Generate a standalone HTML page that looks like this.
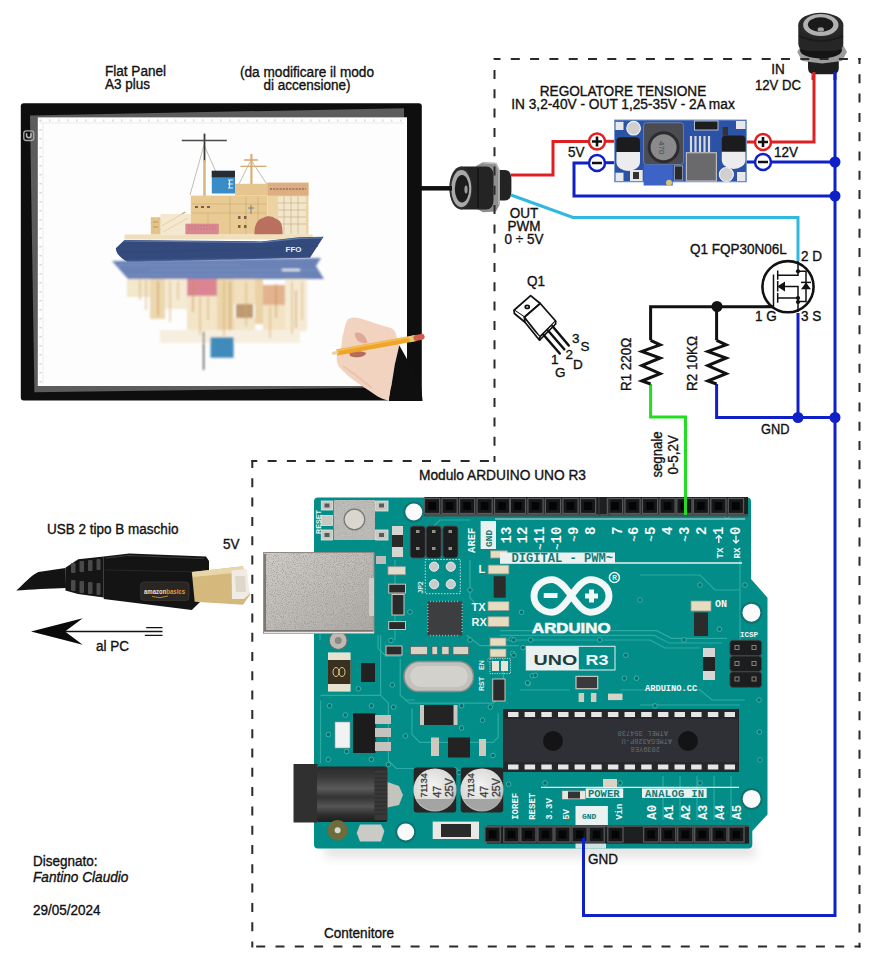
<!DOCTYPE html>
<html><head><meta charset="utf-8">
<style>
html,body{margin:0;padding:0;background:#fff;}
#c{position:relative;width:880px;height:975px;overflow:hidden;background:#fff;}
svg{position:absolute;left:0;top:0;}
svg{font-family:"Liberation Sans",sans-serif;}
</style></head><body>
<div id="c">
<svg width="880" height="975" viewBox="0 0 880 975">
<!-- ============ FLAT PANEL ============ -->
<g id="panel">
  <rect x="20.8" y="103.2" width="401" height="297.2" rx="3" fill="#0e0e0e"/>
  <path d="M30,115.5 L404,108.2 L404,117.4 L38,117.4 L38,386 L407,386 L407,387.2 L34.4,392.3 Z" fill="#5c5c5c"/>
  <rect x="37.8" y="117.3" width="369.2" height="268.7" fill="#fdfdfd"/>
  <path d="M40,120.5 H404 M40.5,120 V384" stroke="#d8d8d8" stroke-width="2.2" stroke-dasharray="1.5 7.5"/>
  <path d="M40,123 H404 M43,122 V384" stroke="#e6e6e6" stroke-width="0.8"/>
  <rect x="23.8" y="130.9" width="10" height="9.6" rx="2.5" fill="none" stroke="#a8a8a8" stroke-width="1.3"/>
  <path d="M26.6,133.2 V135.6 A2.2,2.2 0 0 0 31,135.6 V133.2" fill="none" stroke="#b8b8b8" stroke-width="1.5"/>
  <!-- ship: rigging -->
  <g stroke="#9a9080" stroke-width="0.6" fill="none">
    <path d="M204,145 L190,195 M204,145 L216,172 M251,160 L238,186 M251,160 L268,186"/>
  </g>
  <path d="M204.5,133.6 V162" stroke="#3a3a3a" stroke-width="1.8"/>
  <path d="M181.8,140.5 H226.8" stroke="#4a4a4a" stroke-width="1.4"/>
  <path d="M204.5,160 V202" stroke="#d8b880" stroke-width="2.6"/>
  <path d="M251.4,154 V186" stroke="#d8b070" stroke-width="2.2"/>
  <path d="M240.4,166.4 H266.4 M244,160 H258" stroke="#d0a870" stroke-width="1.4"/>
  <!-- superstructure -->
  <path d="M161.6,226 L185.4,212 M163,232 L188,218" stroke="#c9a36a" stroke-width="1.3"/>
  <rect x="160.5" y="214" width="30.3" height="20.5" fill="#f1e3c4" opacity="0.8"/>
  <rect x="150.8" y="217.2" width="9.7" height="17.3" fill="#e4c388"/>
  <path d="M153,222 H158 M153,227 H158" stroke="#a88858" stroke-width="0.8"/>
  <rect x="190.8" y="195.6" width="76.6" height="38.9" fill="#e9ca92"/>
  <rect x="235" y="183.8" width="32.4" height="11.8" fill="#e6c58e"/>
  <rect x="267.4" y="182.7" width="41.1" height="51.8" fill="#ecd3a4"/>
  <rect x="267.4" y="182.7" width="41.1" height="12.9" fill="#dcae82"/>
  <path d="M270,189 H306" stroke="#6a5040" stroke-width="1" stroke-dasharray="2 1.2"/>
  <rect x="278" y="196.5" width="28" height="38" fill="#f1e5cc"/>
  <g stroke="#c8a878" stroke-width="0.6" fill="none">
    <path d="M278,203 H306 M278,210 H306 M278,217 H306 M278,224 H306 M284,196.5 V234 M291,196.5 V234 M298,196.5 V234"/>
    <path d="M192,204 H266 M192,213 H266 M230,196 V234 M246,196 V234 M258,196 V234 M208,213 V234"/>
  </g>
  <g fill="#7a6048"><rect x="195" y="206" width="3" height="2"/><rect x="201" y="206" width="3" height="2"/><rect x="207" y="206" width="3" height="2"/><rect x="238" y="216" width="2.5" height="3"/><rect x="244" y="216" width="2.5" height="3"/><rect x="238" y="225" width="2.5" height="3"/><rect x="244" y="225" width="2.5" height="3"/></g>
  <path d="M251,205 V214 M248,208 H254" stroke="#6a7890" stroke-width="0.9"/>
  <rect x="185.4" y="223.7" width="33.4" height="10.8" fill="#d98890"/>
  <path d="M188,226 H216 M188,229 H216" stroke="#c07078" stroke-width="0.6" stroke-dasharray="2 1"/>
  <path d="M254.5,234.5 C254,226 257,219 263,218 C267,215 273,216 276,219 C281,220 283,226 282.5,234.5 Z" fill="#b9705e"/>
  <path d="M124.5,234.5 H312.8 V239.5 H124.5 Z" fill="#f0dfbb"/>
  <rect x="211.8" y="170.8" width="23.2" height="22.7" fill="#3a8cc8"/>
  <rect x="211.8" y="170.8" width="23.2" height="6.5" fill="#2a2c34"/>
  <path d="M228,180 H233 M228,184 H233 M228,188 H233 M229.5,180 V188" stroke="#e8f0f8" stroke-width="1.2"/>
  <!-- hull -->
  <path d="M115.8,248.2 L124.5,240 L261,241.4 L299,237.3 L323.6,236.7 L310,257.7 C250,259 170,261 127.3,261.8 C120,258 116,253 115.8,248.2 Z" fill="#34497c"/>
  <path d="M124.5,241 L261,242.4 L299,238.3 L322,237.8" stroke="#5e78a8" stroke-width="1.2" fill="none"/>
  <path d="M120,252 C160,252 240,250 318,246" stroke="#2e4878" stroke-width="1" fill="none"/>
  <text x="285.5" y="252.3" font-size="8" font-weight="bold" fill="#e8eef8">FFO</text>
  <defs><filter id="blur1" x="-10%" y="-10%" width="120%" height="120%"><feGaussianBlur stdDeviation="1.3"/></filter></defs>
  <!-- water / reflection -->
  <g filter="url(#blur1)">
  <path d="M112,261 C170,260 260,258.5 321,258 L316,266 L324,279 H128 L120,270 Z" fill="#5671ad" opacity="0.88"/>
  <path d="M118,265 H240 M150,270 H318 M128,275 H300" stroke="#7f97c6" stroke-width="1.2" opacity="0.7"/>
  <path d="M282,270 H300" stroke="#dfe6f2" stroke-width="2.2"/>
  <g opacity="0.8">
    <rect x="127" y="279" width="23" height="18" fill="#f1e2c0"/>
    <rect x="150" y="279" width="15" height="40" fill="#e9cf9c"/>
    <rect x="165" y="279" width="22" height="30" fill="#f3e6c8"/>
    <rect x="187" y="279" width="30" height="17" fill="#d4687a"/>
    <rect x="187" y="296" width="30" height="36" fill="#f0dfba"/>
    <rect x="217" y="279" width="17" height="52" fill="#e8cc98"/>
    <rect x="234" y="279" width="21" height="25" fill="#efd9ae"/>
    <rect x="236" y="304" width="17" height="14" fill="#b08050"/>
    <rect x="234" y="318" width="21" height="16" fill="#f0dfbc"/>
    <rect x="255" y="279" width="8" height="45" fill="#e6c690"/>
    <rect x="263" y="285" width="22" height="20" fill="#dca074"/>
    <rect x="263" y="305" width="22" height="30" fill="#f0dcb6"/>
    <rect x="285" y="279" width="22" height="52" fill="#f3e6ca"/>
    <rect x="160" y="330" width="140" height="13" fill="#f6ecd8"/>
  </g>
  <g stroke-width="1.6" opacity="0.55">
    <path d="M140,280 V300 M146,280 V310 M170,281 V322 M178,281 V300 M200,297 V335 M208,297 V320 M224,281 V336 M246,282 V326 M270,306 V338 M292,282 V334 M302,282 V320" stroke="#d4a868"/>
    <path d="M158,281 V316 M193,282 V312 M230,282 V330 M276,284 V318 M296,290 V328" stroke="#c88a50"/>
  </g>
  <rect x="210.5" y="337.3" width="23.1" height="20.4" fill="#3f8bbc"/>
  <path d="M203.6,331.8 V370" stroke="#444" stroke-width="1.3"/>
  </g>
  <!-- hand + pencil -->
  <path d="M348.2,319.1 C352,317 356,317.2 358.4,318 C364,319.5 370,321.5 375.5,323.6 L391.4,328.2 C394,329.5 395.5,331.5 395.9,333.9 L398.2,343 L399.3,345.2 L394.8,364.5 L389,399.8 L389,401 C384,399 380,398 377.7,396.4 L364,387.3 C358,383 352,379 348.2,375.9 C343,371 340,368 339,366.8 C337,363 336.5,360 336.8,358.9 L336.8,352 C338,350 340,349 341.4,347.5 C342,340 342.5,336 343.6,332.7 C345,326 346,322 348.2,319.1 Z" fill="#f1d3c0"/>
  <path d="M355,333 C360,331 366,335 367.5,343 C362,344 357,342 355,336 Z" fill="#d9a08c" opacity="0.8"/>
  <path d="M349.3,352 C354,351 362,350.5 366.4,353 C364,357.5 356,358.5 350,356 Z" fill="#a8584a" opacity="0.85"/>
  <path d="M343,366 C352,372 362,380 372,388" stroke="#e6bca8" stroke-width="2" fill="none" opacity="0.7"/>
  <path d="M399.3,345.2 L420.9,383.9 L422.6,401 H389 L394.8,364.5 Z" fill="#0f0f0f"/>
  <path d="M336.8,352.5 L416,338" stroke="#eea52a" stroke-width="6" stroke-linecap="butt"/>
  <path d="M337.5,350.5 L416,336" stroke="#f6c860" stroke-width="1.5" opacity="0.8"/>
  <path d="M409.5,339.2 L416.4,337.9" stroke="#e0c878" stroke-width="6"/>
  <path d="M416.4,337.9 L421.6,336.9" stroke="#d35a4c" stroke-width="6" stroke-linecap="round"/>
  <path d="M333.5,353.2 L337,352.5" stroke="#e8d0a0" stroke-width="3" stroke-linecap="round"/>
</g>

<!-- ============ DC JACK TOP RIGHT ============ -->
<g id="jack1">
  <path d="M813,72 V80" stroke="#e02020" stroke-width="3"/>
  <path d="M835,72 V80" stroke="#1020c8" stroke-width="3"/>
  <path d="M811,71 L814,76 M833,71 L836,76" stroke="#c8c8c8" stroke-width="1.5"/>
  <path d="M808,58 H838.8 V68 Q838.8,74.2 832,74.2 H815 Q808,74.2 808,68 Z" fill="#1e1e1e"/>
  <path d="M797.3,52 L802,43 L822,40.8 L842,43 L847,52 L842,61 L822,63.5 L802,61 Z" fill="#9c9c9c"/>
  <ellipse cx="821" cy="50" rx="21" ry="8.5" fill="#151515"/>
  <path d="M798.3,25 H843.3 V44 Q843.3,51 832,51 H810 Q798.3,51 798.3,44 Z" fill="#262626"/>
  <path d="M799,36 Q821,46 843,36" stroke="#1a1a1a" stroke-width="1.5" fill="none"/>
  <ellipse cx="820.8" cy="25" rx="22.5" ry="12.3" fill="#2a2a2a"/>
  <ellipse cx="820.8" cy="25" rx="17.7" ry="11" fill="#b2b2b2"/>
  <ellipse cx="820.6" cy="24.6" rx="12.7" ry="7.3" fill="#1a1a1a"/>
  <ellipse cx="820.8" cy="29.5" rx="3.2" ry="2.2" fill="#9e9e9e"/>
</g>
<!-- ============ DC JACK PANEL ============ -->
<g id="jack2">
  <path d="M496.4,170 H505 Q511.4,170 511.4,180 V191 Q511.4,200.5 505,200.5 H496.4 Z" fill="#232323"/>
  <path d="M511,174.5 L515,175.5 M511,195.5 L515,196" stroke="#d0d0d0" stroke-width="1.5"/>
  <path d="M476,166 L483,162.3 L496,163 L499.5,170 V205 L496,211.5 L483,212.3 L476,208.5 Z" fill="#8e8e8e"/>
  <path d="M483,163 L496,163.5 L499,170 V205" stroke="#b8b8b8" stroke-width="1.5" fill="none"/>
  <path d="M460.9,166.5 H486 Q493.5,166.5 493.5,176 V200 Q493.5,209.5 486,209.5 H460.9 Z" fill="#242424"/>
  <path d="M478,168 V208" stroke="#161616" stroke-width="2"/>
  <ellipse cx="460.9" cy="188" rx="11.6" ry="21.5" fill="#2c2c2c"/>
  <ellipse cx="461.3" cy="188.6" rx="10" ry="18.6" fill="#a9a9a9"/>
  <ellipse cx="462" cy="188.8" rx="7.2" ry="13.8" fill="#1c1c1c"/>
  <ellipse cx="466" cy="189.5" rx="1.6" ry="4" fill="#9a9a9a"/>
</g>
<!-- ============ USB CABLE ============ -->
<g id="usb">
  <path d="M16.3,590.5 C24,584 31,575 38.4,572 L65.4,568 L66,588 C50,588.5 30,589.5 16.3,590.5 Z" fill="#131313"/>
  <path d="M65.4,567.7 L78.2,559.2 L103.75,556.4 V597.5 L78,594 L65.4,590.5 Z" fill="#151515"/>
  <g fill="#4a4a4a">
    <rect x="71" y="563" width="4.5" height="10" rx="1"/><rect x="79.5" y="561" width="4.5" height="11" rx="1"/><rect x="88" y="560" width="4.5" height="11" rx="1"/><rect x="96.5" y="559" width="4" height="11" rx="1"/>
    <rect x="71" y="580" width="4.5" height="11" rx="1"/><rect x="79.5" y="581" width="4.5" height="12" rx="1"/><rect x="88" y="582" width="4.5" height="12" rx="1"/><rect x="96.5" y="583" width="4" height="12" rx="1"/>
  </g>
  <path d="M103.75,556.4 L129.3,553.5 L206,556.4 L209,561 V590 L200,602 L191.8,610 L103.75,599 Z" fill="#141414"/>
  <path d="M106,558 L129,555.5 L204,558.5" stroke="#3a3a3a" stroke-width="1.2" fill="none"/>
  <path d="M105,570 L205,572" stroke="#262626" stroke-width="1" fill="none"/>
  <rect x="140.7" y="582" width="48.3" height="18.4" rx="3" fill="#2a2624" stroke="#3c3834" stroke-width="0.8"/>
  <text x="144" y="593.5" font-size="7" font-weight="bold" fill="#e8e0d4" textLength="41" lengthAdjust="spacingAndGlyphs">amazon<tspan fill="#e8963a">basics</tspan></text>
  <path d="M152,596.5 Q160,599 168,596" stroke="#e8963a" stroke-width="0.8" fill="none"/>
  <path d="M191.8,572 L243,566.3 L250,594.7 L243,604.7 L194.7,601.8 Z" fill="#d4b87c"/>
  <path d="M191.8,572 L243,566.3 L244,572 L193,577 Z" fill="#e8d6a8"/>
  <path d="M231.6,570.6 L247,569 L249.5,594 L244,599 H232 Z" fill="#f0ece4"/>
  <path d="M235,576 H245 L246,592 H236 Z" fill="#d8cfc0" opacity="0.7"/>
  <!-- arrow -->
  <path d="M31,631.5 L82.7,618.2 L65,631.5 L82.7,644.8 Z" fill="#0a0a0a"/>
  <path d="M65,631.5 H162.5 M146.2,627.6 H162.5 M144.8,635.3 H162.5" stroke="#111" stroke-width="1.3"/>
</g>
<!-- ============ REGULATOR ============ -->
<g id="reg">
  <path d="M605,141.3 H615" stroke="#e02020" stroke-width="3"/>
  <path d="M605,162.7 H615" stroke="#1020c8" stroke-width="3"/>
  <path d="M746,142 H756" stroke="#e02020" stroke-width="3"/>
  <path d="M746,162 H756" stroke="#1020c8" stroke-width="3"/>
  <rect x="614.5" y="120" width="131.9" height="61.8" fill="#2c52a6" stroke="#7a9ad0" stroke-width="1"/>
  <g fill="#e8e8ea"><rect x="615.5" y="121.8" width="8" height="8.2"/><rect x="615.5" y="172.7" width="8" height="8.3"/><rect x="736" y="121" width="9.5" height="8"/><rect x="737" y="172" width="8.5" height="9"/></g>
  <circle cx="633.6" cy="128.2" r="6.8" fill="#d0d0d0" stroke="#f0f0f0" stroke-width="1.2"/>
  <circle cx="726.4" cy="174.5" r="7" fill="#d0d0d0" stroke="#f0f0f0" stroke-width="1.2"/>
  <rect x="616.4" y="137.3" width="23.6" height="22" rx="4" fill="#1c1c1e"/>
  <path d="M616.4,152 H640 V162 A11.8,9 0 0 1 616.4,162 Z" fill="#ececee"/>
  <rect x="721.8" y="135.5" width="23.7" height="22" rx="4" fill="#1c1c1e"/>
  <path d="M721.8,151.8 H745.5 V160 A11.85,9 0 0 1 721.8,160 Z" fill="#ececee"/>
  <rect x="643.6" y="122.7" width="40" height="41.8" rx="3" fill="#4a4c52" stroke="#7a8ab0" stroke-width="0.8"/>
  <circle cx="663.6" cy="147.3" r="14.5" fill="#8a8a8c" stroke="#2c2c2e" stroke-width="3"/>
  <text transform="translate(659,141) rotate(90)" font-size="8" fill="#444">470</text>
  <rect x="643.6" y="164.5" width="29.1" height="21" fill="#3d63c6"/>
  <circle cx="669" cy="182.7" r="3" fill="#d6c47a"/>
  <rect x="630" y="170" width="12.7" height="11" fill="#e8e8e8"/><rect x="633" y="172" width="6" height="7" fill="#333"/>
  <rect x="674.5" y="166" width="8.2" height="14" fill="#2a2a2a" stroke="#ccc" stroke-width="0.6"/>
  <rect x="694.5" y="121" width="23.5" height="9" fill="#1e1e1e" stroke="#ddd" stroke-width="0.8"/>
  <path d="M691,136 V152 M695.5,136 V152 M700,136 V152 M704.5,136 V152 M709,136 V152" stroke="#d8d8d8" stroke-width="2.2"/>
  <rect x="686.4" y="152.7" width="30" height="28.3" fill="#6a6a6c" stroke="#bcbcbc" stroke-width="1.2"/>
  <rect x="722.7" y="127" width="5.3" height="8.5" fill="#333"/>
</g>
<!-- ============ ARDUINO ============ -->
<defs>
  <linearGradient id="usbg" x1="0" y1="0" x2="1" y2="1">
    <stop offset="0" stop-color="#d2ceca"/><stop offset="0.5" stop-color="#c0bcb8"/><stop offset="1" stop-color="#aeaaa6"/>
  </linearGradient>
  <radialGradient id="capg" cx="0.45" cy="0.4" r="0.6">
    <stop offset="0" stop-color="#f4f4f2"/><stop offset="0.8" stop-color="#d8d8d6"/><stop offset="1" stop-color="#a8a8a6"/>
  </radialGradient>
  <linearGradient id="jackg" x1="0" y1="0" x2="0" y2="1">
    <stop offset="0" stop-color="#2a2a2a"/><stop offset="0.2" stop-color="#3a3a3a"/><stop offset="0.4" stop-color="#5a5a5a"/><stop offset="0.55" stop-color="#333"/><stop offset="0.72" stop-color="#555"/><stop offset="0.88" stop-color="#2c2c2c"/><stop offset="1" stop-color="#1e1e1e"/>
  </linearGradient>
  <linearGradient id="shad" x1="0" y1="0" x2="0" y2="1">
    <stop offset="0" stop-color="#d8d8d8"/><stop offset="1" stop-color="#ffffff"/>
  </linearGradient>
</defs>
<g id="arduino">
  <filter id="blur3" x="-20%" y="-50%" width="140%" height="200%"><feGaussianBlur stdDeviation="5"/></filter>
  <rect x="325" y="842" width="430" height="16" fill="#c8c8c8" opacity="0.45" filter="url(#blur3)"/>
  <path d="M318,497.5 H747 Q751,497.5 751,501.5 V579 L767.5,597.7 V814.5 L752.3,831 V844.6 Q752.3,848.6 748.3,848.6 H318 Q314,848.6 314,844.6 V501.5 Q314,497.5 318,497.5 Z" fill="#038d88"/>
  <g fill="none" stroke="#34b0aa" stroke-width="1.2" opacity="0.85">
    <path d="M320.5,695.3 H380.6 V635.2 M320.5,700.6 V763.3 M380.6,695.3 L388.4,703.2 V760.7 L396.3,768.5 H414.5"/>
    <path d="M400.2,658.8 V695.3 L409.3,703.2 H493 L503.4,695.3 V658.8"/>
    <path d="M412,708.4 V734.5 L419.8,742.4 H493 L498.2,737.2 V713.6"/>
    <path d="M466.8,635.2 L479.9,645.7 H519.1 M378,635.2 V648.3 L385.8,656.1 H401.5"/>
    <path d="M500,630.7 H656.5 L671.8,638.4 H727 M500,635.3 H654 L669,643 H722 M505,640 H650 L665,648 H700"/>
    <path d="M620,690 H700 L712,700 H745 M640,705 H740"/>
    <path d="M680,776 V820 M697,776 V820 M714,776 V820 M731,776 V820 M663,776 V820"/>
    <path d="M470,560 V598 L476,604 M420,540 L440,520 H470 M640,575 H700 L715,590 H740 M740,560 V640"/>
    <path d="M320,560 V640 M395,560 V640 M405,700 H415 M520,690 H570"/>
  </g>
  <g fill="#066e6b" stroke="#3ab5ae" stroke-width="1"><circle cx="329.6" cy="705.8" r="2.3"/><circle cx="345.3" cy="715" r="2.3"/><circle cx="371.4" cy="705.8" r="2.3"/><circle cx="358.4" cy="688.8" r="2.3"/><circle cx="392.3" cy="684.9" r="2.3"/><circle cx="328.3" cy="734.5" r="2.3"/><circle cx="328.3" cy="759.4" r="2.3"/><circle cx="346.6" cy="751.5" r="2.3"/><circle cx="371.4" cy="759.4" r="2.3"/><circle cx="388.4" cy="764.6" r="2.3"/><circle cx="405.4" cy="735.9" r="2.3"/><circle cx="393.6" cy="707.1" r="2.3"/><circle cx="461.6" cy="705.8" r="2.3"/><circle cx="490.3" cy="707.1" r="2.3"/><circle cx="482.5" cy="720.2" r="2.3"/><circle cx="461.6" cy="728" r="2.3"/><circle cx="493" cy="755.5" r="2.3"/><circle cx="532.2" cy="675.7" r="2.3"/><circle cx="511.3" cy="639.1" r="2.3"/><circle cx="512.6" cy="653.5" r="2.3"/><circle cx="391" cy="640.5" r="2.3"/><circle cx="459" cy="772.4" r="2.3"/><circle cx="528.2" cy="683.6" r="2.3"/><circle cx="508.6" cy="784.2" r="2.3"/><circle cx="521.5" cy="612.3" r="2.3"/><circle cx="513.8" cy="639.9" r="2.3"/><circle cx="530.7" cy="639.9" r="2.3"/><circle cx="599.7" cy="639.9" r="2.3"/><circle cx="523" cy="647.6" r="2.3"/><circle cx="513.8" cy="655.2" r="2.3"/><circle cx="625.8" cy="655.2" r="2.3"/><circle cx="527.6" cy="682.8" r="2.3"/><circle cx="624.3" cy="678.2" r="2.3"/><circle cx="636.5" cy="678.2" r="2.3"/><circle cx="535.3" cy="675.2" r="2.3"/><circle cx="684.1" cy="639.9" r="2.3"/><circle cx="719.4" cy="629.2" r="2.3"/><circle cx="759.3" cy="732" r="2.3"/><circle cx="655" cy="705.9" r="2.3"/><circle cx="759" cy="700" r="2.3"/><circle cx="745" cy="585" r="2.3"/><circle cx="727" cy="516" r="2.3"/><circle cx="640" cy="600" r="2.3"/><circle cx="700" cy="585" r="2.3"/><circle cx="420" cy="585" r="2.3"/><circle cx="470" cy="590" r="2.3"/><circle cx="470" cy="640" r="2.3"/><circle cx="410" cy="612" r="2.3"/><circle cx="490" cy="660" r="2.3"/><circle cx="455" cy="770" r="2.3"/><circle cx="620" cy="783" r="2.3"/><circle cx="545" cy="783" r="2.3"/><circle cx="700" cy="783" r="2.3"/><circle cx="760" cy="760" r="2.3"/></g>
  <rect x="424.5" y="497" width="323.5" height="19" fill="#1e1f20"/>
  <rect x="424.5" y="514" width="323.5" height="2.5" fill="#4a4d4e"/>
  <g><rect x="424.5" y="498.5" width="15.2" height="15" fill="#161718" stroke="#56595a" stroke-width="1.3"/><rect x="428.3" y="502.0" width="7.6" height="8" fill="#050505"/><rect x="442.0" y="498.5" width="15.2" height="15" fill="#161718" stroke="#56595a" stroke-width="1.3"/><rect x="445.8" y="502.0" width="7.6" height="8" fill="#050505"/><rect x="459.5" y="498.5" width="15.2" height="15" fill="#161718" stroke="#56595a" stroke-width="1.3"/><rect x="463.3" y="502.0" width="7.6" height="8" fill="#050505"/><rect x="477.0" y="498.5" width="15.2" height="15" fill="#161718" stroke="#56595a" stroke-width="1.3"/><rect x="480.8" y="502.0" width="7.6" height="8" fill="#050505"/><rect x="494.5" y="498.5" width="15.2" height="15" fill="#161718" stroke="#56595a" stroke-width="1.3"/><rect x="498.3" y="502.0" width="7.6" height="8" fill="#050505"/><rect x="510.4" y="498.5" width="15.2" height="15" fill="#161718" stroke="#56595a" stroke-width="1.3"/><rect x="514.2" y="502.0" width="7.6" height="8" fill="#050505"/><rect x="527.9" y="498.5" width="15.2" height="15" fill="#161718" stroke="#56595a" stroke-width="1.3"/><rect x="531.7" y="502.0" width="7.6" height="8" fill="#050505"/><rect x="545.4" y="498.5" width="15.2" height="15" fill="#161718" stroke="#56595a" stroke-width="1.3"/><rect x="549.2" y="502.0" width="7.6" height="8" fill="#050505"/><rect x="562.9" y="498.5" width="15.2" height="15" fill="#161718" stroke="#56595a" stroke-width="1.3"/><rect x="566.7" y="502.0" width="7.6" height="8" fill="#050505"/><rect x="580.4" y="498.5" width="15.2" height="15" fill="#161718" stroke="#56595a" stroke-width="1.3"/><rect x="584.2" y="502.0" width="7.6" height="8" fill="#050505"/><rect x="607.4" y="498.5" width="15.2" height="15" fill="#161718" stroke="#56595a" stroke-width="1.3"/><rect x="611.2" y="502.0" width="7.6" height="8" fill="#050505"/><rect x="624.9" y="498.5" width="15.2" height="15" fill="#161718" stroke="#56595a" stroke-width="1.3"/><rect x="628.7" y="502.0" width="7.6" height="8" fill="#050505"/><rect x="642.4" y="498.5" width="15.2" height="15" fill="#161718" stroke="#56595a" stroke-width="1.3"/><rect x="646.2" y="502.0" width="7.6" height="8" fill="#050505"/><rect x="659.9" y="498.5" width="15.2" height="15" fill="#161718" stroke="#56595a" stroke-width="1.3"/><rect x="663.7" y="502.0" width="7.6" height="8" fill="#050505"/><rect x="676.8" y="498.5" width="15.2" height="15" fill="#161718" stroke="#56595a" stroke-width="1.3"/><rect x="680.6" y="502.0" width="7.6" height="8" fill="#050505"/><rect x="693.3" y="498.5" width="15.2" height="15" fill="#161718" stroke="#56595a" stroke-width="1.3"/><rect x="697.1" y="502.0" width="7.6" height="8" fill="#050505"/><rect x="710.8" y="498.5" width="15.2" height="15" fill="#161718" stroke="#56595a" stroke-width="1.3"/><rect x="714.6" y="502.0" width="7.6" height="8" fill="#050505"/><rect x="728.3" y="498.5" width="15.2" height="15" fill="#161718" stroke="#56595a" stroke-width="1.3"/><rect x="732.1" y="502.0" width="7.6" height="8" fill="#050505"/></g>
  <path d="M599,497 V516 M609,497 V516" stroke="#3a3c3d" stroke-width="1.2"/>
  <rect x="487" y="825" width="262" height="18.6" fill="#1e1f20"/>
  <rect x="487" y="825" width="262" height="2" fill="#4a4d4e"/>
  <g><rect x="485.0" y="827" width="15.2" height="15" fill="#161718" stroke="#56595a" stroke-width="1.3"/><rect x="488.8" y="830.5" width="7.6" height="8" fill="#050505"/><rect x="503.8" y="827" width="15.2" height="15" fill="#161718" stroke="#56595a" stroke-width="1.3"/><rect x="507.6" y="830.5" width="7.6" height="8" fill="#050505"/><rect x="520.8" y="827" width="15.2" height="15" fill="#161718" stroke="#56595a" stroke-width="1.3"/><rect x="524.6" y="830.5" width="7.6" height="8" fill="#050505"/><rect x="537.9" y="827" width="15.2" height="15" fill="#161718" stroke="#56595a" stroke-width="1.3"/><rect x="541.7" y="830.5" width="7.6" height="8" fill="#050505"/><rect x="554.9" y="827" width="15.2" height="15" fill="#161718" stroke="#56595a" stroke-width="1.3"/><rect x="558.7" y="830.5" width="7.6" height="8" fill="#050505"/><rect x="572.0" y="827" width="15.2" height="15" fill="#161718" stroke="#56595a" stroke-width="1.3"/><rect x="575.8" y="830.5" width="7.6" height="8" fill="#050505"/><rect x="589.0" y="827" width="15.2" height="15" fill="#161718" stroke="#56595a" stroke-width="1.3"/><rect x="592.8" y="830.5" width="7.6" height="8" fill="#050505"/><rect x="607.8" y="827" width="15.2" height="15" fill="#161718" stroke="#56595a" stroke-width="1.3"/><rect x="611.6" y="830.5" width="7.6" height="8" fill="#050505"/><rect x="643.6" y="827" width="15.2" height="15" fill="#161718" stroke="#56595a" stroke-width="1.3"/><rect x="647.4" y="830.5" width="7.6" height="8" fill="#050505"/><rect x="660.6" y="827" width="15.2" height="15" fill="#161718" stroke="#56595a" stroke-width="1.3"/><rect x="664.4" y="830.5" width="7.6" height="8" fill="#050505"/><rect x="677.7" y="827" width="15.2" height="15" fill="#161718" stroke="#56595a" stroke-width="1.3"/><rect x="681.5" y="830.5" width="7.6" height="8" fill="#050505"/><rect x="694.7" y="827" width="15.2" height="15" fill="#161718" stroke="#56595a" stroke-width="1.3"/><rect x="698.5" y="830.5" width="7.6" height="8" fill="#050505"/><rect x="711.8" y="827" width="15.2" height="15" fill="#161718" stroke="#56595a" stroke-width="1.3"/><rect x="715.6" y="830.5" width="7.6" height="8" fill="#050505"/><rect x="728.8" y="827" width="15.2" height="15" fill="#161718" stroke="#56595a" stroke-width="1.3"/><rect x="732.6" y="830.5" width="7.6" height="8" fill="#050505"/></g>
  <g fill="#fafafa" stroke="#0f7270" stroke-width="2">
    <circle cx="413.8" cy="512" r="9.5"/>
    <circle cx="751.4" cy="612.7" r="10"/>
    <circle cx="751.6" cy="798.9" r="10"/>
    <circle cx="405.7" cy="832" r="9.5"/>
  </g>
  <g fill="#c8c8c4" stroke="#e8e8e4" stroke-width="0.8"><rect x="321.3" y="501" width="11.2" height="9"/><rect x="321.3" y="515.6" width="11.2" height="10"/><rect x="321.3" y="530" width="11.2" height="10"/><rect x="375.6" y="501" width="12.4" height="10"/><rect x="375.6" y="530" width="12.4" height="10"/></g>
  <g fill="#5a5a58"><rect x="324.5" y="503.5" width="5" height="4"/><rect x="324.5" y="533" width="5" height="4"/><rect x="379" y="503.5" width="5" height="4"/><rect x="379" y="533" width="5" height="4"/></g>
  <rect x="333.8" y="500" width="41.2" height="40" fill="#bdbdba"/><rect x="333.8" y="500" width="41.2" height="40" filter="url(#noise)" opacity="0.5"/>
  <circle cx="354.4" cy="519.5" r="10.3" fill="#d8d6ce" stroke="#7a7870" stroke-width="1.2"/>
  <text transform="translate(320.5,534) rotate(-90)" font-weight="bold" font-size="7.5" fill="#eef6f6" textLength="24" lengthAdjust="spacingAndGlyphs">RESET</text>
  <g fill="#1c1d1e" stroke="#4a4c4d" stroke-width="0.9"><rect x="410.2" y="526.1" width="15.1" height="31.9" rx="3"/><rect x="426.1" y="526.1" width="15.1" height="31.9" rx="3"/><rect x="442.8" y="526.1" width="15.2" height="31.9" rx="3"/></g>
  <g fill="#9a9080"><rect x="416" y="530" width="3.5" height="3"/><rect x="432" y="530" width="3.5" height="3"/><rect x="448.5" y="530" width="3.5" height="3"/><rect x="416" y="547" width="3.5" height="3"/><rect x="432" y="547" width="3.5" height="3"/><rect x="448.5" y="547" width="3.5" height="3"/></g>
  <rect x="392" y="526" width="11" height="31" fill="#d5d5d2"/><rect x="392" y="535" width="11" height="12" fill="#2a2a2a"/>
  <rect x="425.3" y="559.5" width="35" height="34.2" fill="none" stroke="#d8eeee" stroke-width="0.9" stroke-dasharray="1.5 1.5"/><text transform="translate(423,593.7) rotate(-90)" font-size="7" font-weight="bold" fill="#d8eeee">JP2</text>
  <g fill="#c9cccb" stroke="#e8eeee" stroke-width="1"><circle cx="434.1" cy="566.7" r="4.6"/><circle cx="450.8" cy="566.7" r="4.6"/><circle cx="434.1" cy="584.2" r="4.6"/><circle cx="450.8" cy="584.2" r="4.6"/></g>
  <rect x="376" y="556" width="10" height="8" fill="#bcbcbc"/>
  <circle cx="338.2" cy="640.5" r="9" fill="#bdbab4" stroke="#6a6a66" stroke-width="1.2"/><circle cx="338.2" cy="640.5" r="3.5" fill="#8a8884"/>
  <rect x="263.6" y="552.5" width="110.4" height="80.8" fill="url(#usbg)" stroke="#8e8a86" stroke-width="1"/>
  <filter id="noise" x="0" y="0" width="100%" height="100%"><feTurbulence type="fractalNoise" baseFrequency="0.9" numOctaves="2" seed="7"/><feColorMatrix type="matrix" values="0 0 0 0 0.3  0 0 0 0 0.29  0 0 0 0 0.28  0 0 0 -2.2 1.25"/></filter>
  <rect x="264.5" y="553.5" width="108.6" height="78.8" filter="url(#noise)" opacity="0.9"/>
  <path d="M265,554 V631 H373" stroke="#6e6864" stroke-width="2" fill="none" opacity="0.8"/>
  <path d="M264,632.5 H374" stroke="#e8e6e2" stroke-width="1.5"/>
  <rect x="369" y="578" width="5" height="38" fill="#cfcbc6"/>
  <g fill="#2a2a2a" stroke="#c8c8c0" stroke-width="1">
    <rect x="388.7" y="584.2" width="16.8" height="8.8"/><rect x="392" y="594.5" width="12" height="20.5"/><rect x="388.7" y="621.6" width="16.8" height="7.9"/>
    <rect x="386" y="646" width="16" height="9"/>
  </g>
  <rect x="388" y="566.7" width="17.5" height="8" fill="#e0dccc" stroke="#999" stroke-width="0.8"/>
  <g fill="#d8d2c2" stroke="#555" stroke-width="0.6"><rect x="410.5" y="646.5" width="17" height="8"/><rect x="432" y="646.5" width="5.5" height="8"/><rect x="441.8" y="646.5" width="7.2" height="8"/><rect x="453" y="646.5" width="15.7" height="8"/></g>
  <rect x="361" y="663" width="14" height="19" fill="#222"/>
  <rect x="427.7" y="601.4" width="34.5" height="34" fill="#3c3e40"/>
  <path d="M427.7,604 V633 M462.2,604 V633 M430,601.4 H460 M430,635.4 H460" stroke="#9aa" stroke-width="1.5" stroke-dasharray="1 2"/>
  <g fill="#e6dcc0" stroke="#9a9a90" stroke-width="0.8">
    <rect x="488.2" y="565.1" width="20.7" height="8.8"/><rect x="488" y="601.7" width="21" height="8.8"/><rect x="488" y="616.8" width="21" height="9.6"/>
    <rect x="490.6" y="550.8" width="16.7" height="7.2"/><rect x="490" y="638" width="16" height="8"/><rect x="490" y="649" width="16" height="8"/>
    <rect x="691" y="601" width="20" height="10"/>
  </g>
  <g fill="#2b2b2b"><rect x="493.7" y="576.2" width="12" height="21.5"/><rect x="694" y="612.5" width="14" height="23.5"/></g>
  <rect x="404" y="661.5" width="69.5" height="30.1" rx="15" fill="#c3c1bc" stroke="#8c8a86" stroke-width="1.5"/>
  <rect x="410" y="666" width="58" height="21" rx="10.5" fill="#d3d1cc"/>
  <rect x="328" y="652.4" width="22.6" height="39.2" fill="#e8e3d0"/>
  <rect x="328" y="660" width="22.6" height="24" fill="#3a3020"/>
  <path d="M333,672 C333,666 339,666 339,672 C339,678 345,678 345,672 C345,666 339,666 339,672 C339,678 333,678 333,672 Z" fill="none" stroke="#d8c48a" stroke-width="1"/>
  
  <rect x="335" y="722" width="15" height="26" fill="#f2f2f2" stroke="#999" stroke-width="0.6"/>
  <rect x="353" y="713.4" width="22.5" height="39.6" fill="#1c1c1c"/>
  <g fill="#c5c3bd"><rect x="375" y="715" width="16" height="9"/><rect x="375" y="728" width="16" height="9"/><rect x="375" y="742" width="16" height="9"/></g>
  <rect x="420" y="705" width="37.5" height="20" fill="#c8c8c0"/><rect x="424" y="705" width="29.5" height="20" fill="#232323"/>
  <rect x="448" y="737.5" width="22" height="20" fill="#232323"/>
  <g fill="#cfc9bd"><rect x="431" y="737.5" width="8" height="18.5"/><rect x="479" y="739" width="7" height="17"/></g>
  <path d="M387.3,782 L399,786 L403,795 L399,805 L387.3,807.5 Z" fill="#c4c4be"/>
  <rect x="293.5" y="764" width="24" height="58.5" fill="#303030"/>
  <rect x="317" y="766.4" width="70.3" height="55.6" rx="2" fill="url(#jackg)"/>
  <rect x="374.5" y="770.6" width="12.8" height="49.4" fill="#383838"/>
  <path d="M374.5,774 H387 M374.5,778 H387 M374.5,782 H387 M374.5,786 H387 M374.5,790 H387 M374.5,794 H387 M374.5,798 H387 M374.5,802 H387 M374.5,806 H387 M374.5,810 H387 M374.5,814 H387" stroke="#2a2a2a" stroke-width="1"/>
  <circle cx="337.6" cy="830.3" r="10.2" fill="#6e6c3c"/>
  <circle cx="337.6" cy="830.3" r="3" fill="#d8d8d0"/>
  <path d="M360,824.6 H381 L384.4,831 L381,841.6 H360 L356.7,833 Z" fill="#cacac6"/>
  <rect x="413.7" y="767.5" width="42.5" height="45" rx="3" fill="#262626"/><rect x="460.7" y="767.5" width="42.5" height="45" rx="3" fill="#262626"/>
  <circle cx="435" cy="790" r="21.6" fill="url(#capg)"/>
  <circle cx="482" cy="790" r="21.6" fill="url(#capg)"/>
  <path d="M416,799 A21.6,21.6 0 0 0 454,799 Z" fill="#a4a4a2"/>
  <path d="M463,799 A21.6,21.6 0 0 0 501,799 Z" fill="#a4a4a2"/>
  <g font-size="10.5" fill="#3a3a3a" stroke="#3a3a3a" stroke-width="0.3">
    <text transform="translate(427,797.5) rotate(-90)" font-size="9">71134</text><text transform="translate(440.5,797.5) rotate(-90)">47</text><text transform="translate(452.5,797) rotate(-90)">25V</text>
    <text transform="translate(474,797.5) rotate(-90)" font-size="9">71134</text><text transform="translate(487.5,797.5) rotate(-90)">47</text><text transform="translate(499.5,797) rotate(-90)">25V</text>
  </g>
  <rect x="432.7" y="821.6" width="46.3" height="17.4" fill="#e8e8e4"/><rect x="441" y="824" width="30" height="13" fill="#2a2a2a"/>
  <rect x="503" y="709" width="236" height="63" fill="#26272a"/>
  <rect x="504" y="719" width="234" height="43" fill="#2e3035"/>
  <g><rect x="508.0" y="712" width="10.5" height="5" fill="#e6e6e6"/><rect x="508.0" y="764.5" width="10.5" height="5" fill="#e6e6e6"/><rect x="524.6" y="712" width="10.5" height="5" fill="#e6e6e6"/><rect x="524.6" y="764.5" width="10.5" height="5" fill="#e6e6e6"/><rect x="541.3" y="712" width="10.5" height="5" fill="#e6e6e6"/><rect x="541.3" y="764.5" width="10.5" height="5" fill="#e6e6e6"/><rect x="558.0" y="712" width="10.5" height="5" fill="#e6e6e6"/><rect x="558.0" y="764.5" width="10.5" height="5" fill="#e6e6e6"/><rect x="574.6" y="712" width="10.5" height="5" fill="#e6e6e6"/><rect x="574.6" y="764.5" width="10.5" height="5" fill="#e6e6e6"/><rect x="591.2" y="712" width="10.5" height="5" fill="#e6e6e6"/><rect x="591.2" y="764.5" width="10.5" height="5" fill="#e6e6e6"/><rect x="607.9" y="712" width="10.5" height="5" fill="#e6e6e6"/><rect x="607.9" y="764.5" width="10.5" height="5" fill="#e6e6e6"/><rect x="624.5" y="712" width="10.5" height="5" fill="#e6e6e6"/><rect x="624.5" y="764.5" width="10.5" height="5" fill="#e6e6e6"/><rect x="641.2" y="712" width="10.5" height="5" fill="#e6e6e6"/><rect x="641.2" y="764.5" width="10.5" height="5" fill="#e6e6e6"/><rect x="657.9" y="712" width="10.5" height="5" fill="#e6e6e6"/><rect x="657.9" y="764.5" width="10.5" height="5" fill="#e6e6e6"/><rect x="674.5" y="712" width="10.5" height="5" fill="#e6e6e6"/><rect x="674.5" y="764.5" width="10.5" height="5" fill="#e6e6e6"/><rect x="691.1" y="712" width="10.5" height="5" fill="#e6e6e6"/><rect x="691.1" y="764.5" width="10.5" height="5" fill="#e6e6e6"/><rect x="707.8" y="712" width="10.5" height="5" fill="#e6e6e6"/><rect x="707.8" y="764.5" width="10.5" height="5" fill="#e6e6e6"/><rect x="724.5" y="712" width="10.5" height="5" fill="#e6e6e6"/><rect x="724.5" y="764.5" width="10.5" height="5" fill="#e6e6e6"/></g>
  <circle cx="553" cy="741" r="10" fill="#141416"/>
  <circle cx="688" cy="741" r="10" fill="#141416"/>
  <g font-family="Liberation Mono" font-size="7" fill="#6a6c72" transform="rotate(180,620,741)">
    <text x="580" y="735">2039YE8</text><text x="568" y="743">ATMEGA328P-U</text><text x="572" y="751">ATMEL 354730</text>
  </g>
  <g fill="#1c1d1e" stroke="#454748" stroke-width="0.9"><rect x="729.9" y="640.3" width="31.7" height="15.5" rx="3"/><rect x="729.9" y="656" width="31.7" height="15.5" rx="3"/><rect x="729.9" y="671.8" width="31.7" height="15.6" rx="3"/></g>
  <g fill="none" stroke="#8a8478" stroke-width="1"><rect x="735" y="645.5" width="4" height="4"/><rect x="752" y="645.5" width="4" height="4"/><rect x="735" y="661.5" width="4" height="4"/><rect x="752" y="661.5" width="4" height="4"/><rect x="735" y="677" width="4" height="4"/><rect x="752" y="677" width="4" height="4"/></g>
  <rect x="703" y="648" width="12" height="32" fill="#d8d6d0"/><rect x="703" y="657" width="12" height="14" fill="#222"/>
  <rect x="576" y="676.4" width="21.7" height="12.3" fill="#3a3a3c" stroke="#c8c6c0" stroke-width="1.2"/>
  <g fill="#d0ccc0"><rect x="578.6" y="693" width="5.5" height="9"/><rect x="590.9" y="693" width="5.5" height="9"/></g>
  <rect x="490" y="658.6" width="20.5" height="15" fill="none" stroke="#d8eeee" stroke-width="0.8" stroke-dasharray="1.2 1.2"/>
  <rect x="492" y="661" width="7" height="10" fill="#e8e4d8"/><rect x="501" y="661" width="7" height="10" fill="#e8e4d8"/>
  <rect x="492.7" y="679" width="12.3" height="22" fill="#2a2a2a" stroke="#c8c8c0" stroke-width="1"/>
  <g font-size="7" font-weight="bold" fill="#e8f4f4"><text transform="translate(484,691) rotate(-90)">RST</text><text transform="translate(484,670) rotate(-90)">EN</text></g>
  <rect x="608" y="693.6" width="14.5" height="6.5" fill="#d8d3c4"/>
  <path d="M571.25,595.6 C565,587 559,579.6 552,579.6 C542,579.6 534,587 534,595.9 C534,605 542,612.25 552,612.25 C559,612.25 565,604 571.25,595.6 C577.5,587 583,579.6 590.5,579.6 C600,579.6 609,587 609,595.9 C609,605 600,612.25 590.5,612.25 C583,612.25 577.5,604 571.25,595.6 Z" fill="none" stroke="#f2f7f7" stroke-width="6.9"/>
  <path d="M543.75,595.6 H557.5 M585,596 H598 M591.5,589.5 V602.5" stroke="#f2f7f7" stroke-width="5"/>
  <circle cx="614.4" cy="577.5" r="5" fill="none" stroke="#f2f7f7" stroke-width="1.5"/>
  <text x="612.2" y="580" font-size="6.5" font-weight="bold" fill="#f2f7f7">R</text>
  <text x="532" y="633.2" font-size="15.5" font-weight="bold" fill="#f2f7f7" stroke="#f2f7f7" stroke-width="0.6" textLength="78.5" lengthAdjust="spacingAndGlyphs">ARDUINO</text>
  <rect x="526.3" y="646.3" width="88.7" height="23.7" fill="none" stroke="#e8f2f2" stroke-width="1"/>
  <rect x="526.3" y="646.3" width="52.5" height="23.7" fill="#e9f2f1"/>
  <g font-weight="bold" font-size="14">
    <text x="533.6" y="664.5" font-size="14.5" fill="#1f3d3d" textLength="43.7" lengthAdjust="spacingAndGlyphs">UNO</text>
    <text x="585.5" y="664.5" font-size="14.5" fill="#f2f7f7" textLength="23" lengthAdjust="spacingAndGlyphs">R3</text>
  </g>
  <rect x="500" y="552.5" width="115" height="11.3" fill="#e9f2f1"/>
  <path d="M615,563 H742" stroke="#e9f2f1" stroke-width="1.3"/>
  <path d="M495,519 H745" stroke="#e9f2f1" stroke-width="1.2" opacity="0.85"/>
  <text x="511.5" y="562" font-family="Liberation Mono" font-weight="bold" font-size="12.1" fill="#127a78">DIGITAL - PWM~</text>
  <rect x="480.6" y="521" width="15.4" height="28" fill="#e9f2f1"/>
  <text transform="translate(492,547) rotate(-90)" font-family="Liberation Mono" font-weight="bold" font-size="9.5" fill="#127a78">GND</text>
  <g font-family="Liberation Mono" font-weight="bold" font-size="14" fill="#f2f7f7" text-anchor="end">
    <text transform="translate(474.8,527.7) rotate(-90)" font-size="10.5">AREF</text>
    <text transform="translate(510.6,526.7) rotate(-90)">13</text>
    <text transform="translate(527,526.7) rotate(-90)">12</text>
    <text transform="translate(544.2,526.7) rotate(-90)"><tspan font-size="11">~</tspan>11</text>
    <text transform="translate(560.8,526.7) rotate(-90)"><tspan font-size="11">~</tspan>10</text>
    <text transform="translate(578.2,526.7) rotate(-90)"><tspan font-size="11">~</tspan>9</text>
    <text transform="translate(594.6,526.7) rotate(-90)">8</text>
    <text transform="translate(621.7,526.7) rotate(-90)">7</text>
    <text transform="translate(638,526.7) rotate(-90)"><tspan font-size="11">~</tspan>6</text>
    <text transform="translate(655,526.7) rotate(-90)"><tspan font-size="11">~</tspan>5</text>
    <text transform="translate(672,526.7) rotate(-90)">4</text>
    <text transform="translate(689,526.7) rotate(-90)"><tspan font-size="11">~</tspan>3</text>
    <text transform="translate(706,526.7) rotate(-90)">2</text>
    <text transform="translate(723,526.7) rotate(-90)">1</text>
    <text transform="translate(740,526.7) rotate(-90)">0</text>
  </g>

  <g font-family="Liberation Mono" font-weight="bold" font-size="9" fill="#f2f7f7">
    <text transform="translate(722.7,558.4) rotate(-90)">TX</text><path d="M718.8,543 V535.5 M715.8,538.5 L718.8,535.5 L721.8,538.5" stroke="#f2f7f7" stroke-width="1.4" fill="none"/>
    <text transform="translate(740,558.4) rotate(-90)">RX</text><path d="M736,535.5 V543 M733,540 L736,543 L739,540" stroke="#f2f7f7" stroke-width="1.4" fill="none"/>
    <text x="478.6" y="573" font-family="Liberation Sans" font-size="11">L</text><text x="471.5" y="610.5" font-family="Liberation Sans" font-size="11">TX</text><text x="471.5" y="625.6" font-family="Liberation Sans" font-size="11">RX</text>
    <text x="715" y="607" font-size="10">ON</text>
    <text x="740" y="637" font-size="7.5">ICSP</text>
    <text x="645" y="691" font-size="8.7">ARDUINO.CC</text>
  </g>
  <path d="M541,787.4 H739" stroke="#e9f2f1" stroke-width="1.3"/>
  <rect x="585.7" y="788.4" width="37.5" height="9.5" fill="#e9f2f1"/>
  <rect x="642" y="788.4" width="64.7" height="9.5" fill="#e9f2f1"/>
  <g font-family="Liberation Mono" font-weight="bold" font-size="10.5" fill="#127a78">
    <text x="588" y="796.8">POWER</text><text x="645" y="796.8" letter-spacing="0.3">ANALOG IN</text>
  </g>
  <rect x="575.5" y="806" width="32.4" height="19" fill="#e9f2f1"/>
  <text x="582" y="818.5" font-family="Liberation Mono" font-weight="bold" font-size="8" fill="#127a78">GND</text>
  <rect x="575.5" y="843.6" width="30.5" height="5" fill="#cfe3e2"/>
  <g font-family="Liberation Mono" font-weight="bold" font-size="9" fill="#f2f7f7">
    <text transform="translate(518,819.8) rotate(-90)">IOREF</text>
    <text transform="translate(535,819.8) rotate(-90)">RESET</text>
    <text transform="translate(552,819.8) rotate(-90)">3.3V</text>
    <text transform="translate(569,819.8) rotate(-90)">5V</text>
    <text transform="translate(621.5,819.8) rotate(-90)">Vin</text>
  </g>
  <g font-family="Liberation Mono" font-weight="bold" font-size="12.5" fill="#f2f7f7">
    <text transform="translate(656.2,819.8) rotate(-90)">A0</text>
    <text transform="translate(673.2,819.8) rotate(-90)">A1</text>
    <text transform="translate(690.3,819.8) rotate(-90)">A2</text>
    <text transform="translate(707.3,819.8) rotate(-90)">A3</text>
    <text transform="translate(724.4,819.8) rotate(-90)">A4</text>
    <text transform="translate(741.4,819.8) rotate(-90)">A5</text>
  </g>
  <rect x="562" y="790.8" width="23.7" height="8.5" fill="#e8e6e0" stroke="#777" stroke-width="0.5"/><rect x="568" y="791.5" width="12" height="7" fill="#333"/>
    <rect x="603" y="779" width="14" height="8" fill="#d8d3c4"/>
</g>


<!-- ============ DASHED BOX ============ -->
<g fill="none" stroke="#2a2a2a" stroke-width="2" stroke-dasharray="9 10.3" stroke-dashoffset="3">
  <path d="M494.5,59 H860.5"/><path d="M859.5,58 V947.5"/><path d="M860.5,946.5 H251.3"/><path d="M252.3,947.5 V460"/><path d="M251.3,461 H495.5"/><path d="M494.5,462 V58"/>
</g>
<!-- ============ TEXTS ============ -->
<g font-size="14" fill="#111" stroke="#111" stroke-width="0.35">
  <text x="105" y="76" textLength="61" lengthAdjust="spacingAndGlyphs">Flat Panel</text>
  <text x="105" y="89" textLength="45.0" lengthAdjust="spacingAndGlyphs">A3 plus</text>
  <text x="307" y="77" text-anchor="middle" textLength="134" lengthAdjust="spacingAndGlyphs">(da modificare il modo</text>
  <text x="307" y="90" text-anchor="middle" textLength="87.1" lengthAdjust="spacingAndGlyphs">di accensione)</text>
  <text x="623" y="95.5" text-anchor="middle" textLength="166.5" lengthAdjust="spacingAndGlyphs">REGOLATORE TENSIONE</text>
  <text x="623" y="108.5" text-anchor="middle" textLength="223.5" lengthAdjust="spacingAndGlyphs">IN 3,2-40V - OUT 1,25-35V - 2A max</text>
  <text x="778" y="74" text-anchor="middle" textLength="13.5" lengthAdjust="spacingAndGlyphs">IN</text>
  <text x="778" y="90" text-anchor="middle" textLength="46" lengthAdjust="spacingAndGlyphs">12V DC</text>
  <text x="568" y="157" textLength="16.5" lengthAdjust="spacingAndGlyphs">5V</text>
  <text x="774" y="157" textLength="24.0" lengthAdjust="spacingAndGlyphs">12V</text>
  <text x="524" y="218" text-anchor="middle" textLength="28.5" lengthAdjust="spacingAndGlyphs">OUT</text>
  <text x="524" y="231" text-anchor="middle" textLength="33.0" lengthAdjust="spacingAndGlyphs">PWM</text>
  <text x="524" y="244" text-anchor="middle" textLength="38.9" lengthAdjust="spacingAndGlyphs">0 ÷ 5V</text>
  <text x="690" y="254" textLength="96.8" lengthAdjust="spacingAndGlyphs">Q1 FQP30N06L</text>
  <text x="801" y="261" textLength="21.0" lengthAdjust="spacingAndGlyphs">2 D</text>
  <text x="755" y="321" textLength="21.8" lengthAdjust="spacingAndGlyphs">1 G</text>
  <text x="801" y="321" textLength="20.3" lengthAdjust="spacingAndGlyphs">3 S</text>
  <text x="536" y="286" text-anchor="middle" textLength="18.0" lengthAdjust="spacingAndGlyphs">Q1</text>
  <text x="761" y="434" textLength="28.5" lengthAdjust="spacingAndGlyphs">GND</text>
  <text x="419" y="480" textLength="167" lengthAdjust="spacingAndGlyphs">Modulo ARDUINO UNO R3</text>
  <text x="47" y="533.5" textLength="131.4" lengthAdjust="spacingAndGlyphs">USB 2 tipo B maschio</text>
  <text x="223" y="549" textLength="16.5" lengthAdjust="spacingAndGlyphs">5V</text>
  <text x="96" y="651" textLength="33.0" lengthAdjust="spacingAndGlyphs">al PC</text>
  <text x="33" y="866" textLength="64.5" lengthAdjust="spacingAndGlyphs">Disegnato:</text>
  <text x="33" y="882" font-style="italic" textLength="95.4" lengthAdjust="spacingAndGlyphs">Fantino Claudio</text>
  <text x="33" y="915" textLength="67.6" lengthAdjust="spacingAndGlyphs">29/05/2024</text>
  <text x="324" y="938" textLength="70" lengthAdjust="spacingAndGlyphs">Contenitore</text>
  <text x="588" y="864" textLength="30.0" lengthAdjust="spacingAndGlyphs">GND</text>
  <text transform="translate(631,391) rotate(-90)" textLength="53.2" lengthAdjust="spacingAndGlyphs">R1 220Ω</text>
  <text transform="translate(697,391) rotate(-90)" textLength="55.1" lengthAdjust="spacingAndGlyphs">R2 10KΩ</text>
  <text transform="translate(661.5,477.5) rotate(-90)" textLength="46" lengthAdjust="spacingAndGlyphs">segnale</text>
  <text transform="translate(677.5,474.6) rotate(-90)" textLength="39.4" lengthAdjust="spacingAndGlyphs">0-5,2V</text>
</g>

<!-- ============ WIRES ============ -->
<g fill="none" stroke-width="3" stroke-linejoin="miter">
  <path d="M511,175 H553 V141.5 H589" stroke="#e02020"/>
  <path d="M771,142 H814 V72" stroke="#e02020"/>
  <path d="M589,163 H574 V196 H835" stroke="#1020c8"/>
  <path d="M771,162 H835" stroke="#1020c8"/>
  <path d="M835,72 V915.5 H583.5 V838" stroke="#1020c8"/>
  <path d="M798,313 V417.5 H716.6 V384" stroke="#1020c8"/>
  <path d="M798,417.5 H835" stroke="#1020c8"/>
  <path d="M511,195 L573,217.5 H798 V261" stroke="#30b8e0"/>
  <path d="M650.6,384 V417 H685.5 V515" stroke="#22dd22"/>
  <path d="M650.6,340.3 V306.7 H774" stroke="#111"/>
  <path d="M716.6,306.7 V340.3" stroke="#111"/>
  <path d="M421,188.3 H452" stroke="#111" stroke-width="4.5"/>
</g>
<g fill="#1020c8">
  <circle cx="835" cy="162" r="5.5"/><circle cx="835" cy="196" r="5.5"/>
  <circle cx="798" cy="417.5" r="5.5"/><circle cx="835" cy="417.5" r="5.5"/>
</g>
<circle cx="717" cy="306.5" r="5.5" fill="#111"/>
<!-- resistors -->
<g fill="none" stroke="#111" stroke-width="3" stroke-linejoin="miter">
  <path d="M650.6,340.3 L660.2,344.8 L641.8,351.4 L660.2,358 L641.8,365.5 L660.2,373.6 L641.8,381 L650.6,384"/>
  <path d="M716.6,340.3 L726.2,344.8 L707.8,351.4 L726.2,358 L707.8,365.5 L726.2,373.6 L707.8,381 L716.6,384"/>
</g>

<!-- +/- circles -->
<g fill="#fff" stroke-width="2.5">
  <circle cx="597" cy="141.5" r="8" stroke="#e02020"/>
  <circle cx="597" cy="163" r="8" stroke="#1020c8"/>
  <circle cx="763" cy="142" r="8" stroke="#e02020"/>
  <circle cx="763" cy="162" r="8" stroke="#1020c8"/>
</g>
<g stroke="#111" stroke-width="2.6">
  <path d="M592,141.5 H602 M597,136.5 V146.5 M592,163 H602"/>
  <path d="M758,142 H768 M763,137 V147 M758,162 H768"/>
</g>
<!-- MOSFET symbol -->
<g fill="none" stroke="#111">
  <circle cx="788" cy="286.7" r="25.6" stroke-width="2.6" fill="#fff"/>
  <g stroke-width="1.5">
    <path d="M773.5,274.5 V306.7"/>
    <path d="M777.7,270.5 V279.7 M777.7,281 V291.6 M777.7,293 V302.7"/>
    <path d="M777.7,275.3 H798 V261"/>
    <path d="M784,286.4 H798 V298"/>
    <path d="M777.7,298 H798 V312"/>
    <path d="M798,271.3 H806 V301.5 H798"/>
    <path d="M801,282.4 H811"/>
  </g>
  <path d="M766,306.7 H774" stroke-width="2.6"/>
</g>
<g fill="#111">
  <path d="M777.2,286.4 L785,281.6 V291.6 Z"/>
  <path d="M806,282.4 L811,289.2 H801 Z"/>
  <circle cx="798" cy="271.3" r="2.1"/><circle cx="798" cy="298" r="2.1"/><circle cx="798" cy="302" r="2.1"/>
</g>
<!-- TO-220 drawing -->
<g transform="translate(500,270) scale(0.125)" fill="#fff" stroke="#111" stroke-width="14" stroke-linejoin="round">
  <path d="M112,322 L245,205 L322,268 L195,378 Z"/>
  <path d="M112,322 L115,348 L200,418 L195,378"/>
  <path d="M195,378 L322,268 L445,408 L318,535 Z"/>
  <path d="M318,535 L316,562 L200,418"/>
  <path d="M445,408 L445,432 L316,562"/>
  <ellipse cx="218" cy="295" rx="16" ry="12"/>
  <g stroke-width="20" stroke-linecap="round">
    <path d="M348,518 L478,668"/><path d="M384,484 L514,634"/><path d="M420,450 L550,604"/>
  </g>
</g>
<g font-size="13.5" fill="#111" stroke="#111" stroke-width="0.35">
  <text x="551" y="364">1</text><text x="555" y="377">G</text>
  <text x="565.5" y="359">2</text><text x="573" y="369">D</text>
  <text x="572" y="343">3</text><text x="580.5" y="351">S</text>
</g>

</svg>
</div>
</body></html>
